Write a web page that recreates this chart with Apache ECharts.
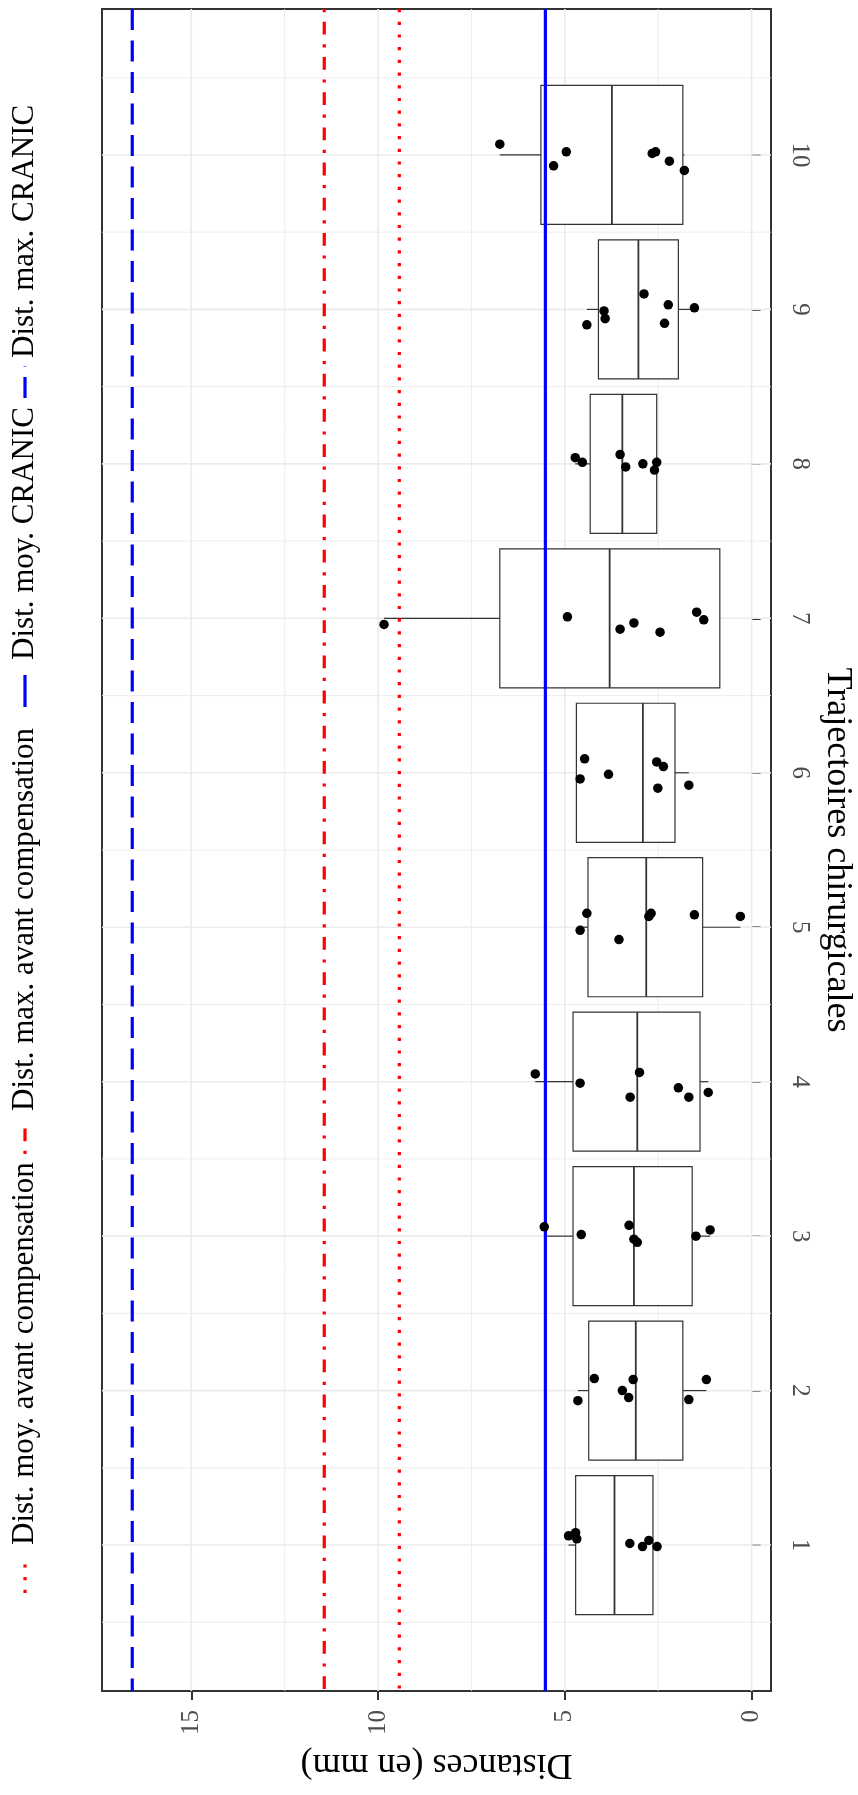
<!DOCTYPE html>
<html>
<head>
<meta charset="utf-8">
<script src="https://cdn.jsdelivr.net/npm/echarts@6/dist/echarts.min.js"></script>
<style>html,body{margin:0;padding:0;background:#fff}#c{width:858px;height:1795px}</style>
</head>
<body>
<div id="c"></div>
<script>
// ---- data ----
const categories = [1, 2, 3, 4, 5, 6, 7, 8, 9, 10];
const boxQ1 =        [2.64, 1.84, 1.59, 1.38, 1.31, 2.05, 0.85, 2.54, 1.96, 1.84];
const boxMedian =    [3.67, 3.10, 3.15, 3.06, 2.82, 2.91, 3.80, 3.46, 3.03, 3.74];
const boxQ3 =        [4.71, 4.36, 4.78, 4.78, 4.38, 4.69, 6.74, 4.32, 4.10, 5.64];
const whiskerLow =   [2.53, 1.21, 1.11, 1.16, 0.30, 1.68, 0.85, 2.54, 1.53, 1.80];
const whiskerHigh =  [4.90, 4.65, 5.55, 5.79, 4.59, 4.69, 9.84, 4.72, 4.41, 6.74];

const pointCategory = [
  1,1,1,1,1,1,1,
  2,2,2,2,2,2,2,
  3,3,3,3,3,3,3,
  4,4,4,4,4,4,4,
  5,5,5,5,5,5,5,
  6,6,6,6,6,6,6,
  7,7,7,7,7,7,7,
  8,8,8,8,8,8,8,
  9,9,9,9,9,9,9,
  10,10,10,10,10,10,10
];
const pointJitter = [
  0.06,0.08,0.04,0.01,-0.01,0.03,-0.01,
  -0.065,0.078,0,-0.045,0.071,-0.058,0.071,
  0.06,0.01,0.07,-0.02,-0.04,0,0.04,
  0.05,-0.01,0.06,-0.10,-0.04,-0.10,-0.07,
  -0.02,0.09,-0.08,0.07,0.09,0.08,0.07,
  0.09,-0.04,-0.01,0.07,0.04,-0.10,-0.08,
  -0.04,0.01,-0.07,-0.03,-0.09,0.04,-0.01,
  0.04,0.01,0.06,-0.02,0,0.01,-0.04,
  -0.10,-0.01,-0.06,0.10,0.03,-0.09,0.01,
  0.07,0.02,-0.07,0.01,0.02,-0.04,-0.10
];
const pointValue = [
  4.90,4.71,4.68,3.26,2.92,2.75,2.53,
  4.65,4.21,3.46,3.29,3.17,1.68,1.21,
  5.55,4.56,3.28,3.15,3.06,1.49,1.11,
  5.79,4.59,3.00,3.25,1.96,1.68,1.16,
  4.59,4.41,3.55,2.75,2.69,1.53,0.30,
  4.47,4.59,3.83,2.54,2.36,2.51,1.68,
  9.84,4.93,3.52,3.15,2.45,1.47,1.28,
  4.72,4.53,3.52,3.37,2.91,2.54,2.60,
  4.41,3.95,3.92,2.88,2.23,2.33,1.53,
  6.74,4.96,5.30,2.66,2.57,2.20,1.80
];

const refNames = ['Dist. moy. avant compensation', 'Dist. max. avant compensation', 'Dist. moy. CRANIC', 'Dist. max. CRANIC'];
const refValues = [9.43, 11.44, 5.52, 16.58];
const refColors = ['#FF0000', '#FF0000', '#0000FF', '#0000FF'];
const refDashes = [[3.2, 9.5], [3.2, 9.6, 12.8, 9.6], null, [21, 10.5]];

const valueTicks = [0, 5, 10, 15];
const valueMinor = [2.5, 7.5, 12.5];
const catMinor = [0.5, 1.5, 2.5, 3.5, 4.5, 5.5, 6.5, 7.5, 8.5, 9.5, 10.5];

const FONT = '"Liberation Serif", "DejaVu Serif", serif';

// ---- build ----
const chart = echarts.init(document.getElementById('c'), null, {renderer: 'canvas'});

function vGrid(params, api) {
  const cs = params.coordSys;
  const x = api.coord([api.value(0), 1])[0];
  const major = api.value(1) === 1;
  return {type: 'line', shape: {x1: x, y1: cs.y, x2: x, y2: cs.y + cs.height},
    style: {stroke: '#ebebeb', lineWidth: major ? 1.6 : 0.9}};
}
function hGrid(params, api) {
  const cs = params.coordSys;
  const y = api.coord([0, api.value(0)])[1];
  const major = api.value(1) === 1;
  return {type: 'line', shape: {x1: cs.x, y1: y, x2: cs.x + cs.width, y2: y},
    style: {stroke: '#ebebeb', lineWidth: major ? 1.6 : 0.9}};
}

const vGridData = valueTicks.map(v => [v, 1]).concat(valueMinor.map(v => [v, 0]));
const hGridData = categories.map(c => [c, 1]).concat(catMinor.map(c => [c, 0]));

const boxData = categories.map((c, i) => [c, whiskerLow[i], boxQ1[i], boxMedian[i], boxQ3[i], whiskerHigh[i]]);
const halfW = 0.45;
function boxItem(params, api) {
  const c = api.value(0);
  const lo = api.value(1), q1 = api.value(2), med = api.value(3), q3 = api.value(4), hi = api.value(5);
  const a = api.coord([q1, c + halfW]);
  const b = api.coord([q3, c - halfW]);
  const m1 = api.coord([med, c + halfW]), m2 = api.coord([med, c - halfW]);
  const w1 = api.coord([lo, c]), w1b = api.coord([q1, c]);
  const w2 = api.coord([hi, c]), w2b = api.coord([q3, c]);
  const stroke = '#333333';
  return {type: 'group', children: [
    {type: 'line', shape: {x1: w1[0], y1: w1[1], x2: w1b[0], y2: w1b[1]}, style: {stroke, lineWidth: 1.2}},
    {type: 'line', shape: {x1: w2[0], y1: w2[1], x2: w2b[0], y2: w2b[1]}, style: {stroke, lineWidth: 1.2}},
    {type: 'rect', shape: {x: Math.min(a[0], b[0]), y: Math.min(a[1], b[1]), width: Math.abs(a[0] - b[0]), height: Math.abs(a[1] - b[1])},
      style: {fill: '#ffffff', stroke, lineWidth: 1.2}},
    {type: 'line', shape: {x1: m1[0], y1: m1[1], x2: m2[0], y2: m2[1]}, style: {stroke, lineWidth: 1.8}}
  ]};
}

function refLine(idx) {
  return function (params, api) {
    const cs = params.coordSys;
    const x = api.coord([api.value(0), 1])[0];
    return {type: 'line', shape: {x1: x, y1: cs.y, x2: x, y2: cs.y + cs.height},
      style: {stroke: refColors[idx], lineWidth: 3.2, lineDash: refDashes[idx] || null, lineCap: 'butt'}};
  };
}

const series = [
  {type: 'custom', name: 'vgrid', data: vGridData, renderItem: vGrid, z: 1, silent: true, clip: true, encode: {x: 0, y: 1}},
  {type: 'custom', name: 'hgrid', data: hGridData, renderItem: hGrid, z: 1, silent: true, clip: true, encode: {x: 1, y: 0}},
  {type: 'custom', name: 'boxes', data: boxData, renderItem: boxItem, z: 2, encode: {x: [1, 2, 3, 4, 5], y: 0}}
];
refValues.forEach((v, i) => {
  series.push({type: 'custom', name: refNames[i], data: [[v, 1]], renderItem: refLine(i), z: 3, clip: true, encode: {x: 0, y: 1}});
});
series.push({type: 'scatter', name: 'points', data: pointValue.map((v, i) => [v, pointCategory[i] + pointJitter[i]]),
  symbolSize: 9.5, itemStyle: {color: '#000000', opacity: 1}, z: 4});

// legend (rotated, drawn as graphics)
const legendKeys = [[1561, 1593], [1122, 1154], [675, 707], [366, 398]];
const legendTextStart = [1545, 1111, 660, 358];
const legendX = 25;
const graphics = [];
refNames.forEach((n, i) => {
  graphics.push({type: 'line', shape: {x1: legendX, y1: legendKeys[i][1], x2: legendX, y2: legendKeys[i][0]},
    style: {stroke: refColors[i], lineWidth: 3.2, lineDash: refDashes[i] || null, lineCap: 'butt'}});
  graphics.push({type: 'text', x: legendX, y: legendTextStart[i], rotation: Math.PI / 2,
    style: {text: n, x: 0, y: 0, align: 'left', verticalAlign: 'middle', fontSize: 31, fontFamily: FONT, fill: '#000'}});
});

chart.setOption({
  animation: false,
  backgroundColor: '#ffffff',
  grid: {left: 102, right: 87, top: 9, bottom: 104, show: true, borderColor: '#333333', borderWidth: 2,
    backgroundColor: '#ffffff', containLabel: false, outerBoundsMode: 'none'},
  xAxis: {
    type: 'value', inverse: true, min: -0.52, max: 17.39, position: 'bottom',
    axisLine: {show: false},
    axisTick: {show: true, customValues: valueTicks, length: 9, lineStyle: {color: '#333333', width: 2}},
    axisLabel: {customValues: valueTicks, rotate: 90, margin: 19, fontSize: 25, color: '#4d4d4d', fontFamily: FONT},
    splitLine: {show: false},
    name: 'Distances (en mm)', nameLocation: 'middle', nameRotate: 180, nameGap: 55,
    nameTextStyle: {fontSize: 36, color: '#000', fontFamily: FONT}
  },
  yAxis: {
    type: 'value', min: 0.055, max: 10.945, position: 'right',
    axisLine: {show: false},
    axisTick: {show: true, customValues: categories, length: 9, lineStyle: {color: '#333333', width: 2}},
    axisLabel: {customValues: categories, rotate: -90, margin: 16, fontSize: 25, color: '#4d4d4d', fontFamily: FONT},
    splitLine: {show: false},
    name: 'Trajectoires chirurgicales', nameLocation: 'middle', nameRotate: -90, nameGap: 48,
    nameTextStyle: {fontSize: 36, color: '#000', fontFamily: FONT}
  },
  graphic: graphics,
  series: series
});
</script>
</body>
</html>
